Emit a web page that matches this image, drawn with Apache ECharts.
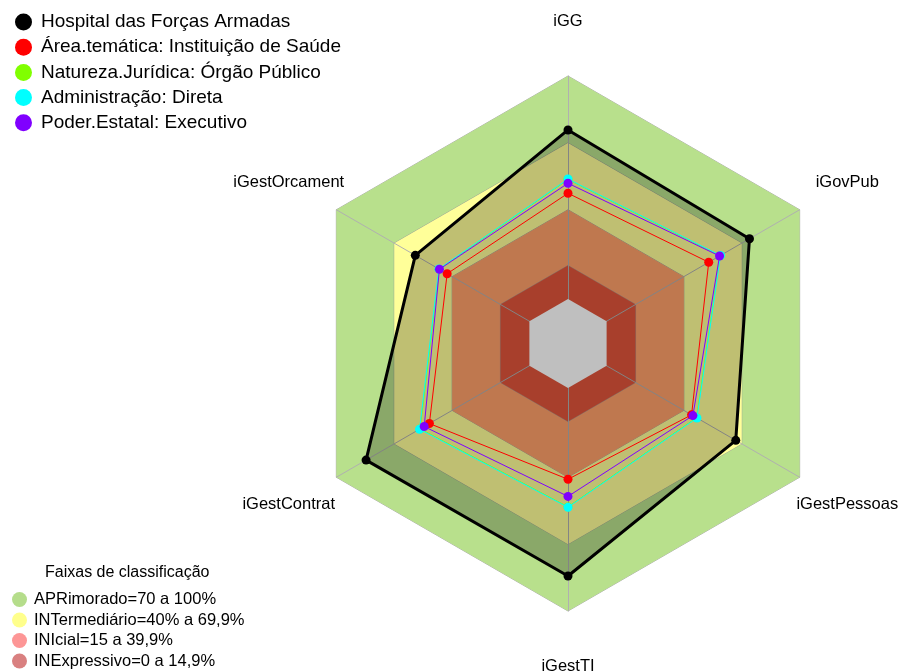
<!DOCTYPE html>
<html>
<head>
<meta charset="utf-8">
<script src="https://cdn.jsdelivr.net/npm/echarts@6.0.0/dist/echarts.min.js"></script>
<style>
  html, body { margin: 0; padding: 0; background: #fff; }
  #main { width: 901px; height: 671px; }
</style>
</head>
<body>
<div id="main"></div>
<script>
// eixos do radar, na ordem do echarts (anti-horario a partir do topo)
const indicators = ['iGG', 'iGestOrcament', 'iGestContrat', 'iGestTI', 'iGestPessoas', 'iGovPub'];

// series (mesma ordem dos eixos)
const seriesNames = [
  'Hospital das Forças Armadas',
  'Área.temática: Instituição de Saúde',
  'Natureza.Jurídica: Órgão Público',
  'Administração: Direta',
  'Poder.Estatal: Executivo'
];
const hospital = [75.8, 59.1, 84.6, 84.3, 66.9, 74.0];
const areaTematica = [47.4, 42.6, 51.8, 40.9, 44.0, 52.9];
const naturezaJuridica = [53.6, 46.7, 56.6, 53.3, 46.6, 58.8];
const administracao = [53.8, 46.9, 56.9, 53.5, 46.8, 59.0];
const poderEstatal = [51.9, 46.6, 54.5, 48.6, 44.7, 58.5];
const seriesColors = ['#000000', '#ff0000', '#80ff00', '#00ffff', '#8000ff'];

// faixas de classificacao
const faixaNames = ['APRimorado=70 a 100%', 'INTermediário=40% a 69,9%', 'INIcial=15 a 39,9%', 'INExpressivo=0 a 14,9%'];
const faixaLimits = [100, 70, 40, 15];
const faixaLegendColors = ['#b5dd8b', '#ffff8c', '#fd9696', '#d98080'];
const faixaFillColors = ['#b8e08c', '#ffff99', '#ffa06a', '#e0553b'];

const axisMin = -20;
const axisMax = 100;
const font = 'Liberation Sans';

let chart = echarts.init(document.getElementById('main'));

const allData = [hospital, areaTematica, naturezaJuridica, administracao, poderEstatal];

let series = [];
// faixas (poligonos preenchidos)
faixaNames.forEach((name, i) => {
  series.push({
    name: name,
    type: 'radar',
    z: 1,
    symbol: 'none',
    lineStyle: { color: '#9a9a9a', width: 1, opacity: 0.8 },
    areaStyle: { color: faixaFillColors[i], opacity: 1 },
    itemStyle: { color: faixaLegendColors[i] },
    data: [{ value: indicators.map(() => faixaLimits[i]) }]
  });
});
// miolo branco abaixo de zero
series.push({
  name: 'centro',
  type: 'radar',
  z: 3,
  symbol: 'none',
  lineStyle: { width: 0 },
  areaStyle: { color: '#ffffff', opacity: 1 },
  data: [{ value: indicators.map(() => 0) }]
});
// series de dados
allData.forEach((vals, i) => {
  series.push({
    name: seriesNames[i],
    type: 'radar',
    z: 4 + i,
    symbol: 'circle',
    symbolSize: 9,
    lineStyle: { color: seriesColors[i], width: i === 0 ? 3 : 1 },
    itemStyle: { color: seriesColors[i] },
    areaStyle: i === 0 ? { color: '#000000', opacity: 0.25 } : null,
    data: [{ value: vals }]
  });
});

let option = {
  animation: false,
  backgroundColor: '#ffffff',
  title: {
    text: 'Faixas de classificação',
    left: 45,
    top: 565,
    padding: 0,
    textStyle: { fontFamily: font, fontSize: 16, fontWeight: 'normal', color: '#000' }
  },
  legend: [
    {
      data: seriesNames.map((n, i) => ({ name: n, itemStyle: { color: seriesColors[i] } })),
      orient: 'vertical',
      left: 15,
      top: 12.5,
      padding: 0,
      icon: 'circle',
      itemWidth: 17,
      itemHeight: 17,
      itemGap: 6.2,
      selectedMode: false,
      textStyle: { fontFamily: font, fontSize: 19, color: '#000', padding: [0, 0, 0, 4] }
    },
    {
      data: faixaNames.map((n, i) => ({ name: n, itemStyle: { color: faixaLegendColors[i] } })),
      orient: 'vertical',
      left: 12,
      top: 591,
      padding: 0,
      icon: 'circle',
      itemWidth: 15,
      itemHeight: 15,
      itemGap: 3.5,
      selectedMode: false,
      textStyle: { fontFamily: font, fontSize: 16.5, color: '#000', padding: [0, 0, 0, 2] }
    }
  ],
  radar: {
    center: [568, 343.5],
    radius: 267.5,
    startAngle: 90,
    shape: 'polygon',
    splitNumber: 6,
    z: 2,
    nameGap: 55,
    indicator: indicators.map((n) => ({ name: n, min: axisMin, max: axisMax })),
    axisName: {
      color: '#000',
      fontFamily: font,
      fontSize: 16.5,
      align: 'center',
      verticalAlign: 'middle'
    },
    axisLine: { lineStyle: { color: '#b0b0b0', width: 1 } },
    splitLine: { show: false },
    splitArea: { show: false }
  },
  series: series
};

chart.setOption(option);
</script>
</body>
</html>
